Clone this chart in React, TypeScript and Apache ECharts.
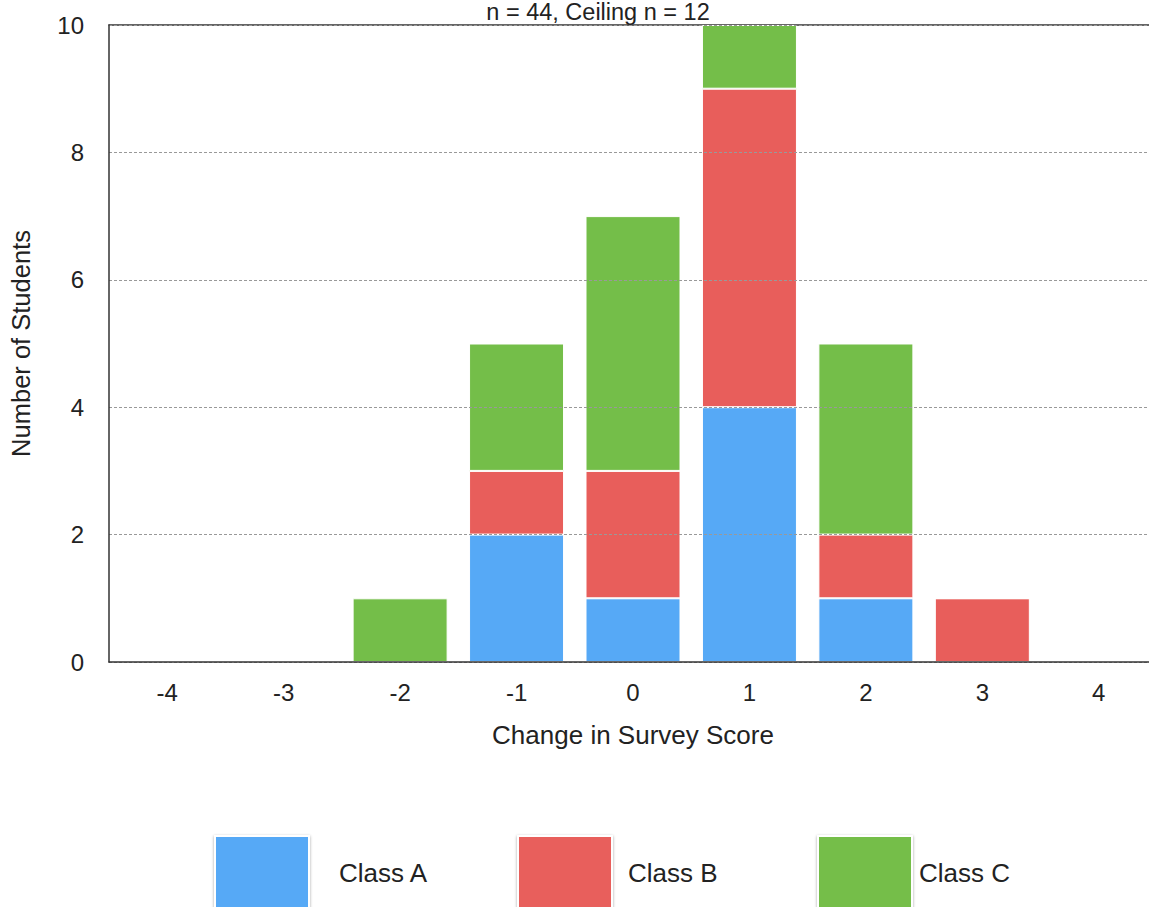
import React, { useEffect, useRef } from "react";
import * as echarts from "echarts";

const categories = ["-4", "-3", "-2", "-1", "0", "1", "2", "3", "4"];
const classA = [0, 0, 0, 2, 1, 4, 1, 0, 0];
const classB = [0, 0, 0, 1, 2, 5, 1, 1, 0];
const classC = [0, 0, 1, 2, 4, 1, 3, 0, 0];
const seriesNames = ["Class A", "Class B", "Class C"];
const colors = ["#56A9F6", "#E85E5B", "#74BE49"];
const titleText = "n = 44, Ceiling n = 12";
const xName = "Change in Survey Score";
const yName = "Number of Students";

const legendLefts = [214, 517, 817];
const legendTextPads = [25, 11, 2];

const FONT = "'Liberation Sans', Arial, Helvetica, sans-serif";

export default function App() {
  const ref = useRef<HTMLDivElement>(null);
  useEffect(() => {
    if (!ref.current) return;
    const chart = echarts.init(ref.current, undefined, { renderer: "svg" });
    const data = [classA, classB, classC];
    chart.setOption({
      animation: false,
      color: colors,
      textStyle: { fontFamily: FONT },
      title: {
        text: titleText,
        left: 598,
        textAlign: "center",
        top: 0,
        padding: 0,
        textStyle: { fontSize: 23.5, fontWeight: "normal", color: "#222", fontFamily: FONT },
      },
      legend: seriesNames.map((n, i) => ({
        left: legendLefts[i],
        top: 835,
        padding: 0,
        itemWidth: 94,
        itemHeight: 74,
        icon: "rect",
        selectedMode: false,
        itemStyle: { shadowBlur: 3, shadowColor: "rgba(0,0,0,0.35)", shadowOffsetY: 1 },
        textStyle: {
          fontSize: 26,
          color: "#222",
          padding: [0, 0, 0, legendTextPads[i]],
          fontFamily: FONT,
        },
        data: [n],
      })),
      grid: { left: 108, top: 25, right: 3, bottom: 245, containLabel: false },
      xAxis: [
        {
          type: "category",
          data: categories,
          position: "bottom",
          z: 10,
          axisLine: { show: true, lineStyle: { color: "#333", width: 1.5 } },
          axisTick: { show: false },
          axisLabel: { fontSize: 24, color: "#222", margin: 18, fontFamily: FONT },
          name: xName,
          nameLocation: "middle",
          nameGap: 60,
          nameTextStyle: { fontSize: 26, color: "#222", fontFamily: FONT },
        },
        {
          type: "category",
          data: categories,
          position: "top",
          axisLine: { show: true, lineStyle: { color: "#333", width: 1.5 } },
          axisTick: { show: false },
          axisLabel: { show: false },
        },
      ],
      yAxis: {
        type: "value",
        min: 0,
        max: 10,
        interval: 2,
        z: 10,
        axisLine: { show: true, lineStyle: { color: "#333", width: 1.5 } },
        axisTick: { show: false },
        axisLabel: { fontSize: 24, color: "#222", margin: 25, fontFamily: FONT },
        splitLine: { show: true, lineStyle: { color: "#999", type: [3, 2], width: 1 } },
        name: yName,
        nameLocation: "middle",
        nameGap: 75,
        nameTextStyle: { fontSize: 25.5, color: "#222", fontFamily: FONT },
      },
      series: seriesNames.map((n, i) => ({
        name: n,
        type: "bar",
        stack: "total",
        barWidth: 95,
        data: data[i],
        itemStyle: { color: colors[i], borderColor: "#fff", borderWidth: 1 },
      })),
    });
    return () => chart.dispose();
  }, []);
  return (
    <div
      style={{
        position: "fixed",
        left: 0,
        top: 0,
        width: 1149,
        height: 907,
        overflow: "hidden",
        background: "#fff",
      }}
    >
      <div ref={ref} style={{ width: 1160, height: 907 }} />
    </div>
  );
}
